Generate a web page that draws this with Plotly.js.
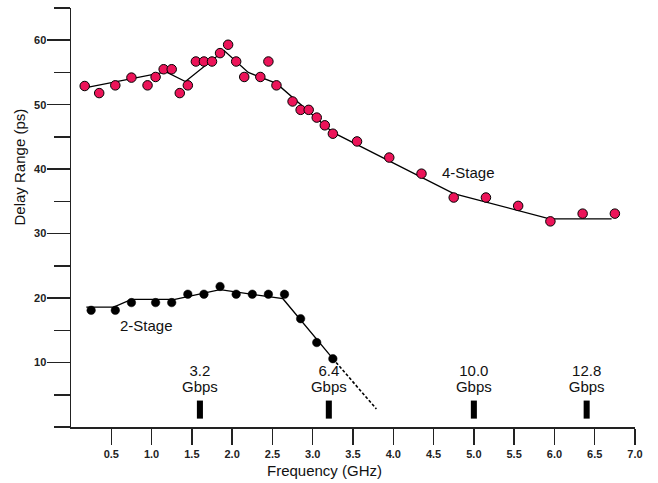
<!DOCTYPE html>
<html>
<head>
<meta charset="utf-8">
<script src="https://cdn.plot.ly/plotly-3.0.1.min.js"></script>
<style>html,body{margin:0;padding:0;background:#fff;}#chart{width:658px;height:483px;}</style>
</head>
<body>
<div id="chart"></div>
<script>
// 4-Stage measured points (GHz, ps)
var fourX = [0.17,0.35,0.55,0.75,0.95,1.05,1.15,1.25,1.35,1.45,1.55,1.65,1.75,1.85,1.95,2.05,2.15,2.35,2.45,2.55,2.75,2.85,2.95,3.05,3.15,3.25,3.55,3.95,4.35,4.75,5.15,5.55,5.95,6.35,6.75];
var fourY = [52.9,51.8,53.0,54.2,53.0,54.3,55.5,55.5,51.8,53.0,56.7,56.7,56.7,58.0,59.3,56.7,54.3,54.3,56.7,53.0,50.5,49.2,49.2,48.0,46.8,45.5,44.3,41.8,39.3,35.6,35.6,34.3,31.9,33.1,33.1];
// 4-Stage trend line
var fourFitX = [0.17,1.18,1.42,1.9,2.2,2.55,3.25,4.75,5.94,6.71];
var fourFitY = [52.6,55.1,53.6,58.4,55.0,53.3,45.7,36.2,32.3,32.3];
// 2-Stage measured points
var twoX = [0.25,0.55,0.75,1.05,1.25,1.45,1.65,1.85,2.05,2.25,2.45,2.65,2.85,3.05,3.25];
var twoY = [18.1,18.1,19.3,19.3,19.3,20.6,20.6,21.8,20.6,20.6,20.6,20.6,16.8,13.1,10.6];
// 2-Stage trend line and extrapolation
var twoFitX = [0.19,0.53,0.75,1.29,1.85,2.63,3.25];
var twoFitY = [18.6,18.6,19.8,19.8,21.3,19.9,10.6];
var twoExtX = [3.25,3.79];
var twoExtY = [10.6,2.8];
// Data-rate markers
var rateLabels = ["3.2","6.4","10.0","12.8"];
var rateGbps = [3.2,6.4,10.0,12.8];
var barBase = 1.3, barHeight = 2.8, rateTextY = 8.5, gbpsTextY = 6.0;
// Axis ticks
var xTicks = [0.5,1.0,1.5,2.0,2.5,3.0,3.5,4.0,4.5,5.0,5.5,6.0,6.5,7.0];
var xTickText = ["0.5","1.0","1.5","2.0","2.5","3.0","3.5","4.0","4.5","5.0","5.5","6.0","6.5","7.0"];
var yTicks = [10,20,30,40,50,60];
var yTickText = ["10","20","30","40","50","60"];
var yMinorTicks = [0,5,15,25,35,45,55,65];

var rateX = rateGbps.map(function(r){return r/2;});
var FONT = "Liberation Sans, Arial, Helvetica, sans-serif";
var RED = "#ec1459";

var traces = [
  {x: rateX, y: rateX.map(function(){return barHeight;}), base: rateX.map(function(){return barBase;}),
   type: "bar", width: 0.075, marker: {color: "#000"}, hoverinfo: "skip"},
  {x: rateX, y: rateX.map(function(){return rateTextY;}), text: rateLabels, mode: "text",
   textfont: {family: FONT, size: 15, color: "#111"}, type: "scatter", hoverinfo: "skip"},
  {x: rateX, y: rateX.map(function(){return gbpsTextY;}), text: rateX.map(function(){return "Gbps";}), mode: "text",
   textfont: {family: FONT, size: 15, color: "#111"}, type: "scatter", hoverinfo: "skip"},
  {x: fourFitX, y: fourFitY, mode: "lines", type: "scatter", line: {color: "#000", width: 1.3}},
  {x: twoFitX, y: twoFitY, mode: "lines", type: "scatter", line: {color: "#000", width: 1.3}},
  {x: twoExtX, y: twoExtY, mode: "lines", type: "scatter", line: {color: "#000", width: 1.6, dash: "3px,2px"}},
  {x: fourX, y: fourY, mode: "markers", type: "scatter",
   marker: {color: RED, size: 9.5, line: {color: "#000", width: 1}}},
  {x: twoX, y: twoY, mode: "markers", type: "scatter",
   marker: {color: "#000", size: 8.5, line: {color: "#000", width: 0.5}}}
];

var layout = {
  width: 658, height: 483,
  margin: {l: 71, r: 23, t: 8, b: 56},
  paper_bgcolor: "#fff", plot_bgcolor: "#fff",
  showlegend: false,
  font: {family: FONT, color: "#111"},
  xaxis: {
    range: [0, 7], showgrid: false, zeroline: false,
    showline: true, linecolor: "#222", linewidth: 1.5,
    tickmode: "array", tickvals: xTicks, ticktext: xTickText,
    ticks: "outside", ticklen: 16, tickwidth: 1.5, tickcolor: "#222",
    tickfont: {family: FONT, size: 11, weight: "bold", color: "#222"}
  },
  yaxis: {
    range: [0, 65], showgrid: false, zeroline: false,
    showline: true, linecolor: "#222", linewidth: 1.5,
    tickmode: "array", tickvals: yTicks, ticktext: yTickText,
    ticks: "outside", ticklen: 23, tickwidth: 1.5, tickcolor: "#222",
    ticklabelstandoff: -2,
    tickfont: {family: FONT, size: 11, weight: "bold", color: "#222"},
    minor: {tickmode: "array", tickvals: yMinorTicks, ticks: "outside", ticklen: 16, tickwidth: 1.5, tickcolor: "#222"}
  },
  annotations: [
    {text: "Frequency (GHz)", xref: "paper", yref: "paper", x: (324-71)/564, y: -(470-427)/419,
     xanchor: "center", yanchor: "middle", showarrow: false, font: {family: FONT, size: 15, color: "#111"}},
    {text: "Delay Range (ps)", xref: "paper", yref: "paper", x: (18.5-71)/564, y: (427-167)/419,
     xanchor: "center", yanchor: "middle", textangle: -90, showarrow: false, font: {family: FONT, size: 15, color: "#111"}},
    {text: "4-Stage", xref: "x", yref: "y", x: 4.93, y: 39.5, showarrow: false,
     font: {family: FONT, size: 15, color: "#111"}},
    {text: "2-Stage", xref: "x", yref: "y", x: 0.935, y: 15.7, showarrow: false,
     font: {family: FONT, size: 15, color: "#111"}}
  ]
};

Plotly.newPlot("chart", traces, layout, {staticPlot: true, displayModeBar: false});
</script>
</body>
</html>
